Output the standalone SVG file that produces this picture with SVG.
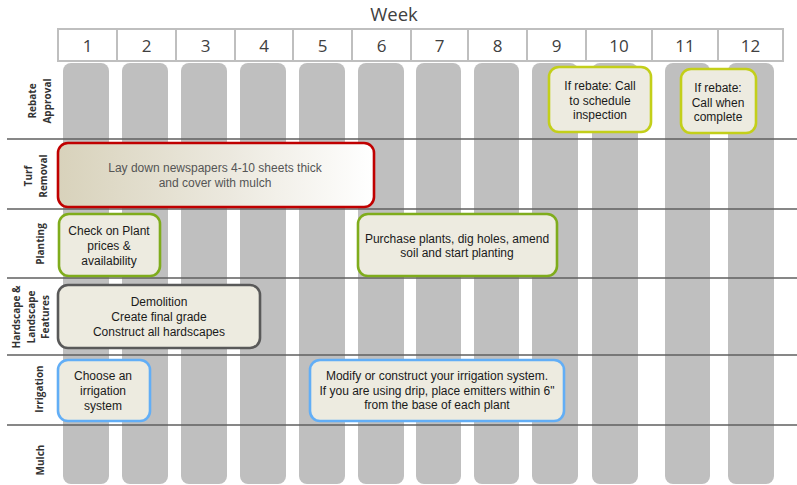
<svg xmlns="http://www.w3.org/2000/svg" width="797" height="485" viewBox="0 0 797 485">
<style>
.hdr{fill:#fff;stroke:#bfbfbf;stroke-width:2}
.hnum{font-family:"Open Sans","Liberation Sans",sans-serif;font-size:17px;fill:#404040;text-anchor:middle}
.bar{fill:#bfbfbf}
.sep{stroke:#5f5f5f;stroke-width:1.5}
.rl{font-family:"Open Sans","Liberation Sans",sans-serif;font-size:10px;font-weight:bold;fill:#333;text-anchor:middle}
.box{fill:#edebe0;stroke-width:2.6}
.t{font-family:"Liberation Sans",Arial,sans-serif;font-size:12px;fill:#1a1a1a;text-anchor:middle}
</style>
<defs>
<linearGradient id="turfg" x1="0" y1="0" x2="1" y2="0">
<stop offset="0" stop-color="#d8d2bb"/>
<stop offset="0.55" stop-color="#ece9df"/>
<stop offset="1" stop-color="#ffffff"/>
</linearGradient>
</defs>
<rect width="797" height="485" fill="#fff"/>
<g id="header">
<text x="394" y="21" class="hnum" style="font-size:18.5px">Week</text>
<rect class="hdr" x="58" y="29" width="59" height="32"/>
<rect class="hdr" x="117" y="29" width="59" height="32"/>
<rect class="hdr" x="176" y="29" width="59" height="32"/>
<rect class="hdr" x="235" y="29" width="58" height="32"/>
<rect class="hdr" x="293" y="29" width="59" height="32"/>
<rect class="hdr" x="352" y="29" width="59" height="32"/>
<rect class="hdr" x="411" y="29" width="57" height="32"/>
<rect class="hdr" x="468" y="29" width="59" height="32"/>
<rect class="hdr" x="527" y="29" width="59" height="32"/>
<rect class="hdr" x="586" y="29" width="66" height="32"/>
<rect class="hdr" x="652" y="29" width="66" height="32"/>
<rect class="hdr" x="718" y="29" width="65" height="32"/>
<text class="hnum" x="87.5" y="52">1</text>
<text class="hnum" x="146.5" y="52">2</text>
<text class="hnum" x="205.5" y="52">3</text>
<text class="hnum" x="264" y="52">4</text>
<text class="hnum" x="322.5" y="52">5</text>
<text class="hnum" x="381.5" y="52">6</text>
<text class="hnum" x="439.5" y="52">7</text>
<text class="hnum" x="497.5" y="52">8</text>
<text class="hnum" x="556.5" y="52">9</text>
<text class="hnum" x="619" y="52">10</text>
<text class="hnum" x="685" y="52">11</text>
<text class="hnum" x="750.5" y="52">12</text>
</g>
<g id="bars">
<rect class="bar" x="63" y="63" width="46" height="421" rx="8"/>
<rect class="bar" x="122" y="63" width="46" height="421" rx="8"/>
<rect class="bar" x="181" y="63" width="46" height="421" rx="8"/>
<rect class="bar" x="240" y="63" width="46" height="421" rx="8"/>
<rect class="bar" x="299" y="63" width="46" height="421" rx="8"/>
<rect class="bar" x="358" y="63" width="46" height="421" rx="8"/>
<rect class="bar" x="416" y="63" width="45" height="421" rx="8"/>
<rect class="bar" x="474" y="63" width="45" height="421" rx="8"/>
<rect class="bar" x="532" y="63" width="46" height="421" rx="8"/>
<rect class="bar" x="592" y="63" width="46" height="421" rx="8"/>
<rect class="bar" x="665" y="63" width="45" height="421" rx="8"/>
<rect class="bar" x="728" y="63" width="46" height="421" rx="8"/>
</g>
<g id="separators">
<line class="sep" x1="7" y1="139" x2="797" y2="139"/>
<line class="sep" x1="7" y1="209" x2="797" y2="209"/>
<line class="sep" x1="7" y1="278" x2="797" y2="278"/>
<line class="sep" x1="7" y1="355" x2="797" y2="355"/>
<line class="sep" x1="7" y1="425" x2="797" y2="425"/>
</g>
<g id="row-labels">
<text class="rl" transform="translate(40,101) rotate(-90)"><tspan x="0" y="-4">Rebate</tspan><tspan x="0" y="11">Approval</tspan></text>
<text class="rl" transform="translate(36,176) rotate(-90)"><tspan x="0" y="-4">Turf</tspan><tspan x="0" y="11">Removal</tspan></text>
<text class="rl" transform="translate(40,244) rotate(-90)"><tspan x="0" y="3.5">Planting</tspan></text>
<text class="rl" transform="translate(31,317) rotate(-90)"><tspan x="0" y="-11.5">Hardscape &amp;</tspan><tspan x="0" y="3.5">Landscape</tspan><tspan x="0" y="18">Features</tspan></text>
<text class="rl" transform="translate(39,389) rotate(-90)"><tspan x="0" y="3.5">Irrigation</tspan></text>
<text class="rl" transform="translate(40,460) rotate(-90)"><tspan x="0" y="3.5">Mulch</tspan></text>
</g>
<g id="rebate-call-schedule">
<rect class="box" x="549" y="67" width="102" height="65" rx="10" stroke="#c3cf1a"/>
<text class="t" x="600" y="90">If rebate: Call</text>
<text class="t" x="600" y="104.5">to schedule</text>
<text class="t" x="600" y="119">inspection</text>
</g>
<g id="rebate-call-complete">
<rect class="box" x="681" y="69" width="75" height="64" rx="10" stroke="#c3cf1a"/>
<text class="t" x="718" y="92">If rebate:</text>
<text class="t" x="718" y="106.5">Call when</text>
<text class="t" x="718" y="121">complete</text>
</g>
<g id="turf-removal">
<rect x="58" y="143" width="316" height="64" rx="10" fill="url(#turfg)" stroke="#c00000" stroke-width="2.6"/>
<text class="t" x="215" y="172" style="fill:#555">Lay down newspapers 4-10 sheets thick</text>
<text class="t" x="215" y="187" style="fill:#555">and cover with mulch</text>
</g>
<g id="check-plant-prices">
<rect class="box" x="59" y="214" width="101" height="62" rx="10" stroke="#7fac1c"/>
<text class="t" x="109" y="235">Check on Plant</text>
<text class="t" x="109" y="250">prices &amp;</text>
<text class="t" x="109" y="265">availability</text>
</g>
<g id="purchase-plants">
<rect class="box" x="358" y="214" width="199" height="62" rx="10" stroke="#7fac1c"/>
<text class="t" x="457" y="243">Purchase plants, dig holes, amend</text>
<text class="t" x="457" y="257">soil and start planting</text>
</g>
<g id="demolition">
<rect class="box" x="58" y="285" width="202" height="63" rx="10" stroke="#595959"/>
<text class="t" x="159" y="306">Demolition</text>
<text class="t" x="159" y="321">Create final grade</text>
<text class="t" x="159" y="336">Construct all hardscapes</text>
</g>
<g id="choose-irrigation">
<rect class="box" x="58" y="360" width="92" height="61" rx="10" stroke="#62aef6"/>
<text class="t" x="103" y="380">Choose an</text>
<text class="t" x="103" y="395">irrigation</text>
<text class="t" x="103" y="410">system</text>
</g>
<g id="modify-irrigation">
<rect class="box" x="310" y="360" width="254" height="61" rx="10" stroke="#62aef6"/>
<text class="t" x="437" y="380">Modify or construct your irrigation system.</text>
<text class="t" x="437" y="395">If you are using drip, place emitters within 6"</text>
<text class="t" x="437" y="409">from the base of each plant</text>
</g>
<g id="connectors"/>
</svg>
